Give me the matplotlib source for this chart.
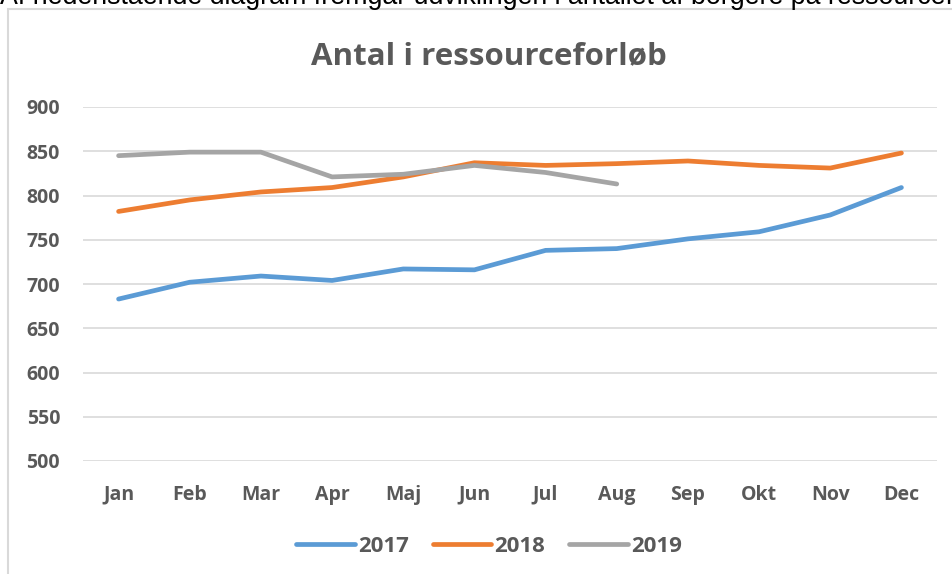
import matplotlib
matplotlib.use("Agg")
import matplotlib.pyplot as plt
from matplotlib.patches import Rectangle

months = ["Jan", "Feb", "Mar", "Apr", "Maj", "Jun", "Jul", "Aug", "Sep", "Okt", "Nov", "Dec"]
v2017 = [683, 702, 709, 704, 717, 716, 738, 740, 751, 759, 778, 809]
v2018 = [782, 795, 804, 809, 821, 837, 834, 836, 839, 834, 831, 848]
v2019 = [845, 849, 849, 821, 824, 834, 826, 813]
yticks = [500, 550, 600, 650, 700, 750, 800, 850, 900]

plt.rcParams['font.family'] = ['Open Sans', 'DejaVu Sans']
grey = "#595959"

fig = plt.figure(figsize=(9.52, 5.74), dpi=100)

# outer chart frame (partially visible)
fig.patches.append(Rectangle((8/952, -0.1), 1.1, 1 - 9/574 + 0.1, transform=fig.transFigure,
                             fill=False, edgecolor="#d9d9d9", linewidth=1.5))
# cut-off paragraph text above chart
fig.text(0.0, 1 - 4/574, "Af nedenstående diagram fremgår udviklingen i antallet af borgere på ressourceforløb",
         fontsize=19.3, family=['Liberation Sans', 'DejaVu Sans'], color="black", va="baseline", ha="left")

ax = fig.add_axes([83/952, 1 - 461/574, (937 - 83)/952, (461 - 107)/574])
x = list(range(len(months)))
kw = dict(lw=3.4, solid_capstyle="round", solid_joinstyle="round")
ax.plot(x, v2017, color="#5B9BD5", label="2017", **kw)
ax.plot(x, v2018, color="#ED7D31", label="2018", **kw)
ax.plot(x[:len(v2019)], v2019, color="#A5A5A5", label="2019", **kw)

ax.set_xlim(-0.5, 11.5)
ax.set_ylim(500, 900)
ax.set_yticks(yticks)
ax.set_xticks(x)
ax.set_xticklabels(months)
ax.grid(axis="y", color="#d9d9d9", lw=1.2)
ax.set_axisbelow(True)
for s in ax.spines.values():
    s.set_visible(False)
ax.tick_params(length=0, labelsize=14, labelcolor=grey)
ax.tick_params(axis="x", pad=17)
ax.tick_params(axis="y", pad=16.5)
for lab in ax.get_xticklabels() + ax.get_yticklabels():
    lab.set_fontweight("bold")

fig.text(489/952, 1 - 56/574, "Antal i ressourceforløb", ha="center", va="center",
         fontsize=22.5, fontweight="bold", color=grey)

leg = fig.legend(loc="center", bbox_to_anchor=(489/952, 1 - 546/574), ncol=3, frameon=False,
                 handlelength=2.63, handletextpad=0.15, columnspacing=1.08,
                 prop={"size": 16, "weight": "bold"})
for t in leg.get_texts():
    t.set_color(grey)

fig.savefig("out.png", dpi=100)
